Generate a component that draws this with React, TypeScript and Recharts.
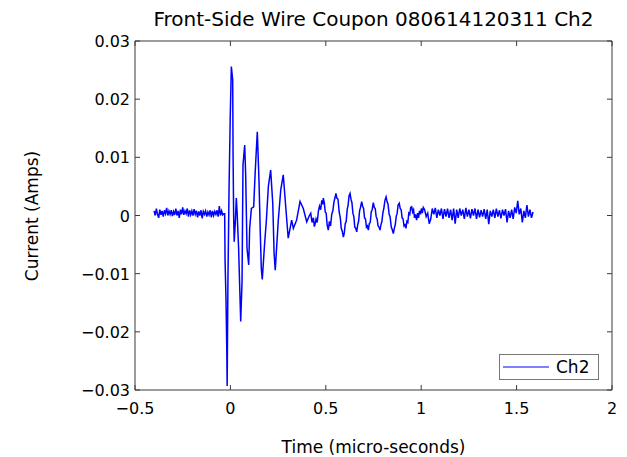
import { Legend, Line, LineChart, XAxis, YAxis } from "recharts";

// [time (micro-seconds), current (Amps)]
const preTrigger: [number, number][] = [
  [-0.4, 0.0008], [-0.394, 0.0], [-0.388, 0.0012], [-0.382, 0.0002], [-0.376, -0.0004],
  [-0.37, 0.001], [-0.364, 0.0001], [-0.358, 0.0008], [-0.352, -0.0002], [-0.346, 0.0009],
  [-0.34, 0.0003], [-0.334, 0.0013], [-0.328, 0.0], [-0.322, 0.0008], [-0.316, 0.0002],
  [-0.31, 0.0009], [-0.304, -0.0001], [-0.298, 0.0007], [-0.292, 0.0001], [-0.286, 0.0012],
  [-0.28, 0.0], [-0.274, 0.0008], [-0.268, -0.0004], [-0.262, 0.001], [-0.256, 0.0002],
  [-0.25, 0.0014], [-0.244, 0.0001], [-0.238, 0.0008], [-0.232, 0.0003], [-0.226, 0.0012],
  [-0.22, -0.0002], [-0.214, 0.0009], [-0.208, 0.0001], [-0.202, 0.0008], [-0.196, 0.0],
  [-0.19, 0.0011], [-0.184, 0.0002], [-0.178, 0.0008], [-0.172, -0.0003], [-0.166, 0.0007],
  [-0.16, 0.0], [-0.154, 0.0009], [-0.148, -0.0005], [-0.142, 0.0007], [-0.136, 0.0002],
  [-0.13, 0.0008], [-0.124, -0.0002], [-0.118, 0.0006], [-0.112, 0.0001], [-0.106, 0.0009],
  [-0.1, -0.0003], [-0.094, 0.0008], [-0.088, 0.0], [-0.082, 0.0007], [-0.076, 0.0002],
  [-0.07, 0.0009], [-0.064, -0.0002], [-0.058, 0.0016], [-0.052, 0.0], [-0.046, 0.0008],
  [-0.04, 0.0001], [-0.034, 0.0003],
];

const burst: [number, number][] = [
  [-0.03, 0.0003], [-0.028, -0.0077], [-0.023, -0.0145], [-0.019, -0.0228], [-0.017, -0.0293],
  [-0.013, -0.0114], [-0.007, 0.0047], [-0.001, 0.0167], [0.005, 0.0256], [0.012, 0.0233],
  [0.014, 0.0104], [0.017, 0.0], [0.02, -0.0045], [0.026, -0.001], [0.031, 0.003],
  [0.035, 0.0007], [0.043, -0.0056], [0.049, -0.0125], [0.054, -0.0182], [0.061, -0.0114],
  [0.066, 0.0087], [0.075, 0.0121], [0.08, 0.007], [0.087, -0.0056], [0.096, -0.0085],
  [0.101, -0.0022], [0.11, 0.0012], [0.122, 0.0015], [0.13, 0.0075], [0.141, 0.0144],
  [0.15, 0.0058], [0.157, -0.0034], [0.162, -0.0091], [0.167, -0.011], [0.18, -0.0045],
  [0.188, -0.0011], [0.199, 0.005], [0.211, 0.0078], [0.222, 0.0021], [0.229, -0.0065],
  [0.235, -0.0094], [0.251, -0.0008], [0.264, 0.0044], [0.277, 0.007], [0.29, 0.0015],
  [0.303, -0.0039], [0.321, -0.0008], [0.33, -0.0022], [0.347, -0.0008], [0.365, 0.0024],
  [0.382, 0.0012], [0.4, -0.0011], [0.414, 0.0],
];

const ringdown: [number, number][] = [
  [0.421, 0.0004], [0.428, -0.0012], [0.435, -0.0004], [0.44, -0.0019], [0.443, -0.0016],
  [0.449, -0.0006], [0.455, -0.0012], [0.461, 0.0007], [0.467, 0.0016], [0.473, 0.001],
  [0.479, 0.0026], [0.484, 0.0019], [0.487, 0.003], [0.492, 0.0022], [0.497, 0.0006],
  [0.502, 0.0004], [0.507, -0.0016], [0.513, -0.0025], [0.519, -0.001], [0.525, -0.0018],
  [0.531, 0.0002], [0.537, 0.0008], [0.543, 0.0024], [0.548, 0.003], [0.553, 0.0038],
  [0.558, 0.003], [0.564, 0.0028], [0.57, 0.0006], [0.576, -0.0004], [0.581, -0.0022],
  [0.587, -0.0028], [0.592, -0.0037], [0.597, -0.003], [0.602, -0.0014], [0.607, -0.001],
  [0.612, 0.001], [0.617, 0.0018], [0.622, 0.0034], [0.627, 0.0038], [0.632, 0.0028],
  [0.637, 0.0022], [0.642, 0.0004], [0.647, -0.0002], [0.652, -0.002], [0.657, -0.0022],
  [0.662, -0.0028], [0.667, -0.0016], [0.672, -0.001], [0.677, 0.0008], [0.682, 0.0014],
  [0.688, 0.0024], [0.693, 0.0016], [0.698, 0.0012], [0.703, -0.0004], [0.708, -0.0006],
  [0.713, -0.002], [0.718, -0.0018], [0.723, -0.0025], [0.728, -0.0014], [0.733, -0.0012],
  [0.738, 0.0006], [0.743, 0.001], [0.749, 0.0022], [0.754, 0.0014], [0.759, 0.0012],
  [0.764, -0.0002], [0.769, -0.0006], [0.774, -0.0018], [0.779, -0.002], [0.784, -0.0025],
  [0.789, -0.0016], [0.794, -0.001], [0.799, 0.0004], [0.804, 0.0012], [0.81, 0.0026],
  [0.816, 0.0032], [0.821, 0.0024], [0.826, 0.002], [0.832, 0.0002], [0.837, -0.0002],
  [0.843, -0.002], [0.848, -0.0024], [0.854, -0.0031], [0.859, -0.0022], [0.864, -0.0016],
  [0.869, -0.0002], [0.874, 0.0004], [0.879, 0.0018], [0.885, 0.0021], [0.89, 0.0012],
  [0.895, 0.001], [0.9, -0.0004], [0.905, -0.0006], [0.91, -0.0018], [0.915, -0.0016],
  [0.92, -0.0022], [0.925, -0.001], [0.93, -0.0012], [0.935, 0.0004], [0.94, 0.0002],
  [0.945, 0.0014], [0.95, 0.0015], [0.955, 0.0006], [0.96, 0.001], [0.965, -0.0004],
  [0.97, 0.0002], [0.976, -0.0008], [0.981, 0.0004], [0.986, -0.0004], [0.991, 0.0008],
  [0.996, 0.0002], [1.001, 0.0012], [1.006, 0.0004], [1.011, 0.0014],
];

const tail: [number, number][] = [
  [1.018, 0.001], [1.026, -0.0002], [1.034, 0.0004], [1.042, -0.0014], [1.05, -0.0006],
  [1.058, 0.0012], [1.066, 0.0002], [1.074, 0.0013], [1.082, -0.0004], [1.09, 0.001],
  [1.098, 0.0], [1.106, 0.0012], [1.114, -0.0006], [1.122, 0.0011], [1.13, -0.0002],
  [1.138, 0.0012], [1.146, -0.0004], [1.154, 0.001], [1.162, -0.0008], [1.17, 0.0012],
  [1.178, -0.0014], [1.186, 0.001], [1.194, -0.0004], [1.202, 0.0012], [1.21, 0.0],
  [1.218, 0.001], [1.226, -0.0006], [1.234, 0.0013], [1.242, -0.0002], [1.25, 0.001],
  [1.258, -0.0005], [1.266, 0.0011], [1.274, 0.0], [1.282, 0.0012], [1.29, -0.0006],
  [1.298, 0.001], [1.306, -0.0003], [1.314, 0.0009], [1.322, -0.0002], [1.33, 0.0011],
  [1.338, -0.0006], [1.346, 0.001], [1.354, -0.0015], [1.362, 0.0008], [1.37, -0.0002],
  [1.378, 0.001], [1.386, -0.0004], [1.394, 0.0012], [1.402, -0.0002], [1.41, 0.0009],
  [1.418, -0.0005], [1.426, 0.001], [1.434, 0.0], [1.442, 0.0011], [1.45, -0.0012],
  [1.458, 0.0008], [1.466, -0.0004], [1.474, 0.001], [1.482, -0.0006], [1.49, 0.0014],
  [1.498, 0.0004], [1.506, 0.0025], [1.514, 0.0002], [1.522, 0.0012], [1.53, -0.0012],
  [1.538, 0.0008], [1.546, -0.0004], [1.554, 0.0018], [1.562, -0.0002], [1.57, 0.001],
  [1.578, -0.0004], [1.586, 0.0006],
];

const xTicks = [-0.5, 0, 0.5, 1, 1.5, 2];
const yTicks = [-0.03, -0.02, -0.01, 0, 0.01, 0.02, 0.03];

const data = [...preTrigger, ...burst, ...ringdown, ...tail].map(([t, i]) => ({ t, i }));

const FONT = "'DejaVu Sans', Verdana, sans-serif";
const AXIS = "#3a3a3a";
const BLUE = "#0000ff";

const fmt = (v: number) => (v < 0 ? "\u2212" + Math.abs(v) : String(v));

function BottomTick({ x, y, payload }: any) {
  return (
    <g>
      <line x1={x} x2={x} y1={y} y2={y - 5} stroke={AXIS} />
      <text x={x} y={y + 24} textAnchor="middle" fontSize={16} fill="#000" fontFamily={FONT}>
        {fmt(payload.value)}
      </text>
    </g>
  );
}

function TopTick({ x, y }: any) {
  return <line x1={x} x2={x} y1={y} y2={y + 5} stroke={AXIS} />;
}

function LeftTick({ x, y, payload }: any) {
  return (
    <g>
      <line x1={x} x2={x + 5} y1={y} y2={y} stroke={AXIS} />
      <text x={x - 5} y={y + 6} textAnchor="end" fontSize={16} fill="#000" fontFamily={FONT}>
        {fmt(payload.value)}
      </text>
    </g>
  );
}

function RightTick({ x, y }: any) {
  return <line x1={x} x2={x - 5} y1={y} y2={y} stroke={AXIS} />;
}

function LegendBox() {
  return (
    <div
      style={{
        width: 100,
        height: 26,
        boxSizing: "border-box",
        border: "1px solid #777",
        background: "#fff",
        display: "flex",
        alignItems: "center",
        fontFamily: FONT,
        fontSize: 17,
      }}
    >
      <svg width={50} height={10} style={{ display: "block" }}>
        <line x1={3} x2={49} y1={5} y2={5} stroke={BLUE} strokeWidth={1} />
      </svg>
      <span style={{ marginLeft: 6 }}>Ch2</span>
    </div>
  );
}

export default function App() {
  return (
    <div style={{ position: "absolute", left: 0, top: 0, width: 627, height: 457, background: "#fff" }}>
      <div
        style={{
          position: "absolute",
          left: 135,
          width: 477,
          top: 8,
          textAlign: "center",
          fontFamily: FONT,
          fontSize: 20,
          lineHeight: "22px",
          color: "#000",
        }}
      >
        Front-Side Wire Coupon 080614120311 Ch2
      </div>
      <LineChart width={627} height={457} data={data} margin={{ top: 31, right: 5, bottom: 37, left: 75 }}>
        <XAxis
          dataKey="t"
          type="number"
          domain={[-0.5, 2]}
          ticks={xTicks}
          height={30}
          tickSize={0}
          tickMargin={0}
          tickLine={false}
          tick={<BottomTick />}
          stroke={AXIS}
          interval={0}
          allowDataOverflow
        />
        <XAxis
          xAxisId="top"
          orientation="top"
          dataKey="t"
          type="number"
          domain={[-0.5, 2]}
          ticks={xTicks}
          height={10}
          tickSize={0}
          tickMargin={0}
          tickLine={false}
          tick={<TopTick />}
          stroke={AXIS}
          interval={0}
          allowDataOverflow
        />
        <YAxis
          type="number"
          domain={[-0.03, 0.03]}
          ticks={yTicks}
          width={60}
          tickSize={0}
          tickMargin={0}
          tickLine={false}
          tick={<LeftTick />}
          stroke={AXIS}
          interval={0}
          allowDataOverflow
        />
        <YAxis
          yAxisId="right"
          orientation="right"
          type="number"
          domain={[-0.03, 0.03]}
          ticks={yTicks}
          width={10}
          tickSize={0}
          tickMargin={0}
          tickLine={false}
          tick={<RightTick />}
          stroke={AXIS}
          interval={0}
          allowDataOverflow
        />
        <Legend
          layout="vertical"
          align="center"
          verticalAlign="middle"
          wrapperStyle={{ position: "absolute", left: 499, top: 354, width: 100, height: 26 }}
          content={() => <LegendBox />}
        />
        <Line
          dataKey="i"
          name="Ch2"
          type="linear"
          stroke={BLUE}
          strokeWidth={1.5}
          dot={false}
          activeDot={false}
          isAnimationActive={false}
        />
      </LineChart>
      <div
        style={{
          position: "absolute",
          left: 135,
          width: 477,
          top: 437,
          textAlign: "center",
          fontFamily: FONT,
          fontSize: 17,
          lineHeight: "20px",
          color: "#000",
        }}
      >
        Time (micro-seconds)
      </div>
      <div
        style={{
          position: "absolute",
          left: 32,
          top: 216,
          transform: "translate(-50%, -50%) rotate(-90deg)",
          whiteSpace: "nowrap",
          fontFamily: FONT,
          fontSize: 17,
          lineHeight: "20px",
          color: "#000",
        }}
      >
        Current (Amps)
      </div>
    </div>
  );
}
